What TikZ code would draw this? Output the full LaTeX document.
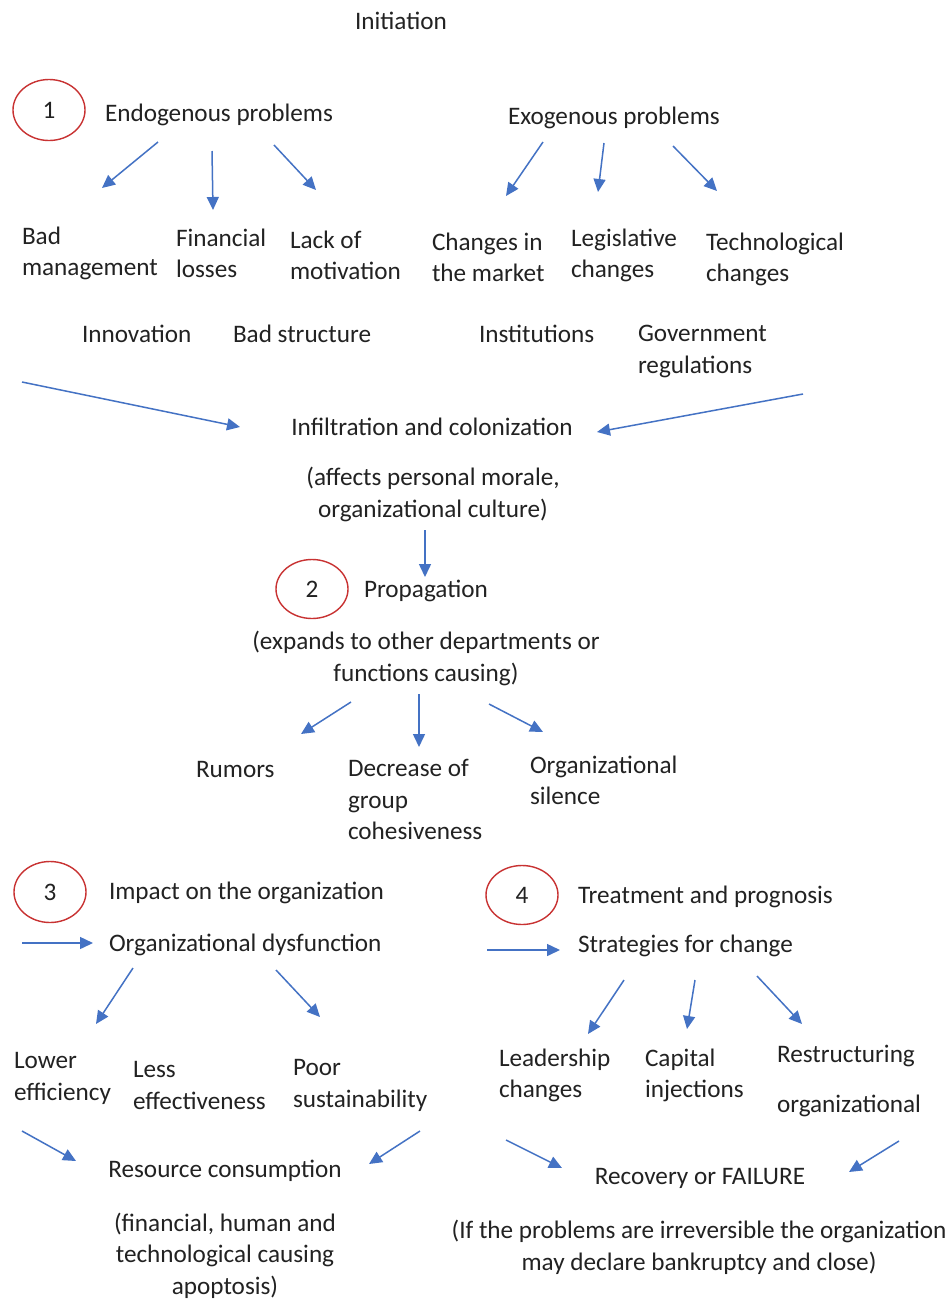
\documentclass[tikz,border=0pt]{standalone}
\usepackage{fontspec}
\setmainfont{Carlito}
\usetikzlibrary{arrows.meta,shapes.geometric}
\definecolor{arrowblue}{HTML}{4472C4}
\definecolor{ringred}{HTML}{C83232}
\definecolor{txt}{HTML}{222222}
\begin{document}
\begin{tikzpicture}[x=1pt,y=-1pt,
  lbl/.style={inner sep=0pt,outer sep=0pt,text=txt,font=\fontsize{25.2}{31.5}\selectfont,align=left,anchor=west,yshift=-1.5pt},
  clbl/.style={lbl,align=center,anchor=center},
  ring/.style={draw=ringred,line width=1.4pt,ellipse,minimum width=72pt,minimum height=61pt,inner sep=0pt,text=txt,font=\fontsize{25.2}{31}\selectfont},
  arr/.style={draw=arrowblue,line width=1.5pt,-{Triangle[length=13pt,width=12pt]}}]
\useasboundingbox[fill=white] (0,0) rectangle (949,1299);

% texts
\node[clbl] (init) at (401,19) {Initiation};
\node[ring] (r1) at (49,110) {1};
\node[lbl] (endo) at (105,113) {Endogenous problems};
\node[lbl] (exo) at (508,116) {Exogenous problems};
\node[lbl] (badm) at (22,252) {Bad\\management};
\node[lbl] (finl) at (176,252) {Financial\\losses};
\node[lbl] (lack) at (290,254) {Lack of\\motivation};
\node[lbl] (chm) at (432,256) {Changes in\\the market};
\node[lbl] (legc) at (571,254) {Legislative\\changes};
\node[lbl] (tech) at (706,258) {Technological\\changes};
\node[lbl] (innov) at (82,332) {Innovation};
\node[lbl] (bads) at (233,332) {Bad structure};
\node[lbl] (inst) at (479,332) {Institutions};
\node[lbl] (gov) at (638,350) {Government\\regulations};
\node[clbl] (infil) at (432,425) {Infiltration and colonization};
\node[clbl] (aff) at (433,493) {(affects personal morale,\\organizational culture)};
\node[ring,minimum height=59pt] (r2) at (312,589) {2};
\node[lbl] (prop) at (364,589) {Propagation};
\node[clbl] (exp) at (426,657) {(expands to other departments or\\functions causing)};
\node[lbl] (rum) at (196,768) {Rumors};
\node[lbl] (dec) at (348,798) {Decrease of\\group\\cohesiveness};
\node[lbl] (orgs) at (530,779) {Organizational\\silence};
\node[ring] (r3) at (50,892) {3};
\node[lbl] (imp) at (109,891) {Impact on the organization};
\node[lbl] (dysf) at (109,943) {Organizational dysfunction};
\node[ring,minimum height=59pt] (r4) at (522,895) {4};
\node[lbl] (treat) at (578,895) {Treatment and prognosis};
\node[lbl] (strat) at (578,944) {Strategies for change};
\node[lbl] (lowe) at (14,1077) {Lower\\efficiency};
\node[lbl] (lesse) at (133,1084) {Less\\effectiveness};
\node[lbl] (poor) at (293,1084) {Poor\\sustainability};
\node[lbl] (lead) at (499,1074) {Leadership\\changes};
\node[lbl] (capi) at (645,1074) {Capital\\injections};
\node[lbl] (restr) at (777,1054) {Restructuring};
\node[lbl] (orgn) at (777,1104) {organizational};
\node[clbl] (res) at (225,1169) {Resource consumption};
\node[clbl] (fin) at (225,1254) {(financial, human and\\technological causing\\apoptosis)};
\node[clbl] (rec) at (700,1177) {Recovery or FAILURE};
\node[clbl] (irr) at (699,1246) {(If the problems are irreversible the organization\\may declare bankruptcy and close)};

% arrow end points
\coordinate (a1s) at (158,142); \coordinate (a1e) at (102,188);
\coordinate (a2s) at (212,151); \coordinate (a2e) at (213,210);
\coordinate (a3s) at (274,145); \coordinate (a3e) at (316,190);
\coordinate (b1s) at (543,142); \coordinate (b1e) at (506,196);
\coordinate (b2s) at (604,143); \coordinate (b2e) at (598,192);
\coordinate (b3s) at (673,146); \coordinate (b3e) at (717,191);
\coordinate (c1s) at (22,382); \coordinate (c1e) at (240,427);
\coordinate (c2s) at (803,394); \coordinate (c2e) at (597,432);
\coordinate (d1s) at (425,530); \coordinate (d1e) at (425,577);
\coordinate (e1s) at (351,702); \coordinate (e1e) at (301,734);
\coordinate (e2s) at (419,694); \coordinate (e2e) at (419,747);
\coordinate (e3s) at (489,704); \coordinate (e3e) at (543,732);
\coordinate (f1s) at (22,943); \coordinate (f1e) at (93,943);
\coordinate (f2s) at (487,950); \coordinate (f2e) at (560,950);
\coordinate (g1s) at (133,968); \coordinate (g1e) at (96,1024);
\coordinate (g2s) at (276,970); \coordinate (g2e) at (320,1017);
\coordinate (h1s) at (624,980); \coordinate (h1e) at (588,1034);
\coordinate (h2s) at (695,980); \coordinate (h2e) at (687,1029);
\coordinate (h3s) at (757,976); \coordinate (h3e) at (802,1024);
\coordinate (i1s) at (22,1131); \coordinate (i1e) at (76,1161);
\coordinate (i2s) at (420,1131); \coordinate (i2e) at (369,1164);
\coordinate (i3s) at (506,1140); \coordinate (i3e) at (562,1168);
\coordinate (i4s) at (899,1141); \coordinate (i4e) at (849,1172);

\foreach \p in {a1,a2,a3,b1,b2,b3,c1,c2,d1,e1,e2,e3,f1,f2,g1,g2,h1,h2,h3,i1,i2,i3,i4}
  \draw[arr] (\p s) -- (\p e);
\end{tikzpicture}
\end{document}
